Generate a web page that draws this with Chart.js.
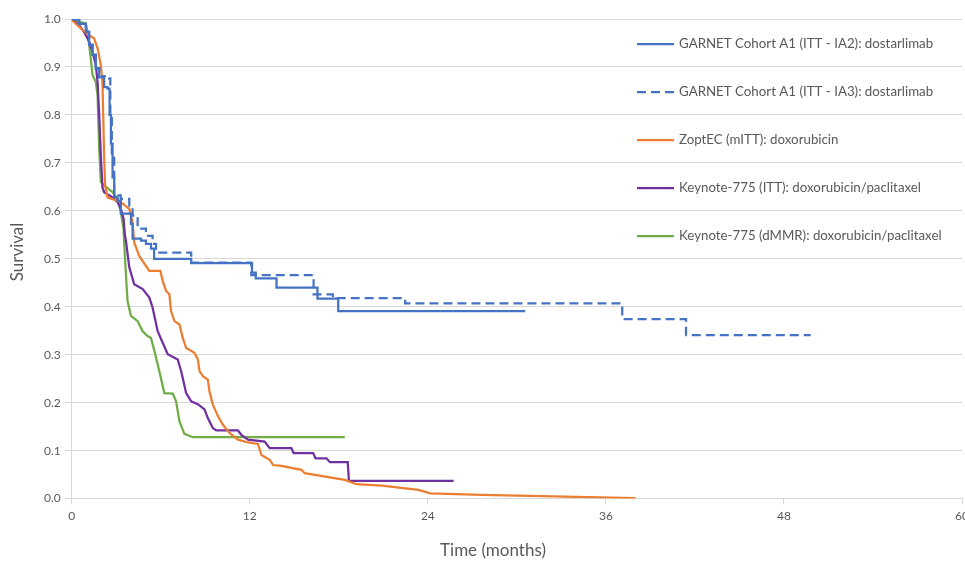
<!DOCTYPE html>
<html>
<head>
<meta charset="utf-8">
<script src="https://cdn.jsdelivr.net/npm/chart.js@4.4.1/dist/chart.umd.min.js"></script>
<style>
  html, body { margin: 0; padding: 0; background: #fff; }
  #wrap { width: 965px; height: 562px; }
</style>
</head>
<body>
<div id="wrap"><canvas id="km"></canvas></div>
<script>
// series labels
let seriesNames = [
  "GARNET Cohort A1 (ITT - IA2): dostarlimab",
  "GARNET Cohort A1 (ITT - IA3): dostarlimab",
  "ZoptEC (mITT): doxorubicin",
  "Keynote-775 (ITT): doxorubicin/paclitaxel",
  "Keynote-775 (dMMR): doxorubicin/paclitaxel"
];
let xTicks = [0, 12, 24, 36, 48, 60];
let xTitle = "Time (months)";
let yTitle = "Survival";

// GARNET IA2 (stepped)
let ia2Time = [0, 0.5, 0.95, 1.17, 1.4, 1.62, 1.85, 2.18, 2.41, 2.55, 2.64, 2.75, 2.86, 3.09, 3.31, 3.99, 4.1, 4.67, 5.0, 5.34, 5.55, 8.05, 12.15, 12.4, 13.8, 16.56, 17.96, 30.56];
let ia2Surv = [1.0, 0.99, 0.973, 0.946, 0.925, 0.897, 0.879, 0.858, 0.855, 0.8, 0.74, 0.67, 0.628, 0.621, 0.594, 0.573, 0.542, 0.538, 0.531, 0.521, 0.50, 0.491, 0.471, 0.459, 0.44, 0.417, 0.391, 0.391];

// GARNET IA3 (stepped, dashed)
let ia3Time = [0, 0.5, 0.95, 1.17, 1.4, 1.62, 1.85, 2.07, 2.52, 2.6, 2.7, 2.86, 3.3, 3.88, 4.1, 4.44, 5.0, 5.45, 5.68, 8.05, 12.1, 16.3, 17.6, 22.47, 37.1, 41.4, 49.8];
let ia3Surv = [1.0, 0.99, 0.973, 0.946, 0.925, 0.897, 0.879, 0.881, 0.876, 0.8, 0.72, 0.632, 0.625, 0.611, 0.59, 0.563, 0.548, 0.531, 0.513, 0.492, 0.466, 0.426, 0.418, 0.407, 0.374, 0.341, 0.341];

// ZoptEC doxorubicin
let zoptTime = [0, 0.6, 1.17, 1.5, 1.74, 1.96, 2.07, 2.12, 2.18, 2.25, 2.41, 3.31, 3.88, 4.1, 4.21, 4.55, 5.0, 5.23, 5.97, 6.13, 6.36, 6.58, 6.69, 6.92, 7.26, 7.48, 7.71, 8.27, 8.5, 8.61, 8.84, 9.17, 9.28, 9.51, 9.85, 10.19, 10.63, 11.2, 11.88, 12.55, 12.78, 13.34, 13.57, 14.13, 15.48, 15.7, 18.4, 19.2, 20.9, 23.37, 24.16, 27.65, 38.0];
let zoptSurv = [0.998, 0.981, 0.966, 0.96, 0.939, 0.904, 0.869, 0.799, 0.715, 0.653, 0.628, 0.618, 0.604, 0.576, 0.534, 0.506, 0.485, 0.475, 0.475, 0.454, 0.433, 0.426, 0.391, 0.37, 0.363, 0.335, 0.314, 0.304, 0.29, 0.266, 0.255, 0.248, 0.224, 0.196, 0.172, 0.154, 0.137, 0.123, 0.117, 0.114, 0.091, 0.081, 0.07, 0.068, 0.06, 0.053, 0.039, 0.03, 0.027, 0.018, 0.011, 0.008, 0.001];

// Keynote-775 ITT
let kitTime = [0, 0.5, 0.83, 1.17, 1.4, 1.62, 1.74, 1.85, 1.96, 2.07, 2.18, 2.75, 3.09, 3.31, 3.49, 3.58, 3.65, 3.88, 4.21, 4.78, 5.23, 5.45, 5.79, 6.13, 6.47, 7.14, 7.37, 7.71, 8.05, 8.5, 8.95, 9.17, 9.51, 9.74, 11.2, 11.43, 11.88, 13.0, 13.34, 14.8, 14.96, 16.27, 16.43, 17.17, 17.4, 18.6, 18.68, 25.74];
let kitSurv = [1.0, 0.987, 0.973, 0.953, 0.932, 0.904, 0.869, 0.799, 0.715, 0.649, 0.639, 0.628, 0.618, 0.604, 0.584, 0.55, 0.538, 0.482, 0.447, 0.437, 0.419, 0.398, 0.349, 0.325, 0.301, 0.29, 0.266, 0.22, 0.203, 0.197, 0.186, 0.168, 0.147, 0.142, 0.142, 0.133, 0.123, 0.119, 0.105, 0.105, 0.095, 0.095, 0.084, 0.084, 0.076, 0.076, 0.037, 0.037];

// Keynote-775 dMMR
let kdmTime = [0, 0.95, 1.06, 1.17, 1.28, 1.4, 1.62, 1.74, 1.78, 1.85, 1.96, 2.18, 2.75, 3.09, 3.31, 3.49, 3.58, 3.65, 3.76, 3.99, 4.44, 4.78, 5.11, 5.34, 5.57, 5.9, 6.24, 6.81, 7.03, 7.26, 7.59, 8.16, 18.4];
let kdmSurv = [0.998, 0.991, 0.973, 0.946, 0.918, 0.883, 0.869, 0.841, 0.8, 0.729, 0.66, 0.653, 0.639, 0.625, 0.597, 0.562, 0.506, 0.468, 0.412, 0.381, 0.37, 0.349, 0.339, 0.335, 0.308, 0.266, 0.22, 0.219, 0.203, 0.161, 0.135, 0.128, 0.128];

let colors = ["#4472C4", "#4472C4", "#ED7D31", "#7030A0", "#70AD47"];

function toPoints(ts, ss) {
  let pts = [];
  for (let i = 0; i < ts.length; i++) {
    pts.push({x: ts[i], y: ss[i]});
  }
  return pts;
}

let datasets = [
  {label: seriesNames[0], data: toPoints(ia2Time, ia2Surv), stepped: true},
  {label: seriesNames[1], data: toPoints(ia3Time, ia3Surv), stepped: true, borderDash: [9, 5]},
  {label: seriesNames[2], data: toPoints(zoptTime, zoptSurv)},
  {label: seriesNames[3], data: toPoints(kitTime, kitSurv)},
  {label: seriesNames[4], data: toPoints(kdmTime, kdmSurv)}
];
datasets.forEach((d, i) => {
  d.borderColor = colors[i];
  d.backgroundColor = colors[i];
  d.borderWidth = 2.25;
  d.pointRadius = 0;
  d.showLine = true;
  d.fill = false;
  d.tension = 0;
});

// legend drawn inside the plot area + axis titles placed like the excel chart
const insideLegend = {
  id: 'insideLegend',
  afterDatasetsDraw(chart) {
    const ctx = chart.ctx;
    const ys = chart.scales.y;
    ctx.save();
    ctx.font = '13.3px Lato';
    ctx.textBaseline = 'middle';
    chart.data.datasets.forEach((d, i) => {
      const yy = Math.round(ys.getPixelForValue(0.95 - i * 0.1)) + 1;
      ctx.strokeStyle = d.borderColor;
      ctx.lineWidth = 2.25;
      ctx.setLineDash(d.borderDash || []);
      ctx.beginPath();
      ctx.moveTo(637, yy);
      ctx.lineTo(674, yy);
      ctx.stroke();
      ctx.setLineDash([]);
      ctx.fillStyle = '#595959';
      ctx.fillText(d.label, 679, yy);
    });
    // axis titles
    ctx.font = '17px Lato';
    ctx.textAlign = 'center';
    ctx.fillText(xTitle, 493, 551);
    ctx.translate(18, 252);
    ctx.rotate(-Math.PI / 2);
    ctx.fillText(yTitle, 0, 0);
    ctx.restore();
  }
};

new Chart(document.getElementById('km'), {
  type: 'scatter',
  data: {datasets: datasets},
  plugins: [insideLegend],
  options: {
    responsive: true,
    maintainAspectRatio: false,
    animation: false,
    layout: {padding: {left: 40, right: 3, top: 19, bottom: 35}},
    plugins: {legend: {display: false}, tooltip: {enabled: false}},
    scales: {
      x: {
        type: 'linear', min: 0, max: 60,
        afterBuildTicks: (axis) => { axis.ticks = xTicks.map(v => ({value: v})); },
        afterFit: (axis) => { axis.paddingRight = 0; },
        grid: {drawOnChartArea: false, color: '#D9D9D9', tickLength: 6},
        border: {color: '#D9D9D9'},
        ticks: {color: '#595959', font: {family: 'Lato', size: 12}, padding: 4, maxRotation: 0}
      },
      y: {
        min: 0, max: 1,
        ticks: {stepSize: 0.1, color: '#595959', font: {family: 'Lato', size: 12}, callback: v => v.toFixed(1), padding: 4},
        grid: {color: '#D9D9D9', tickLength: 7},
        border: {color: '#D9D9D9'}
      }
    }
  }
});
</script>
</body>
</html>
